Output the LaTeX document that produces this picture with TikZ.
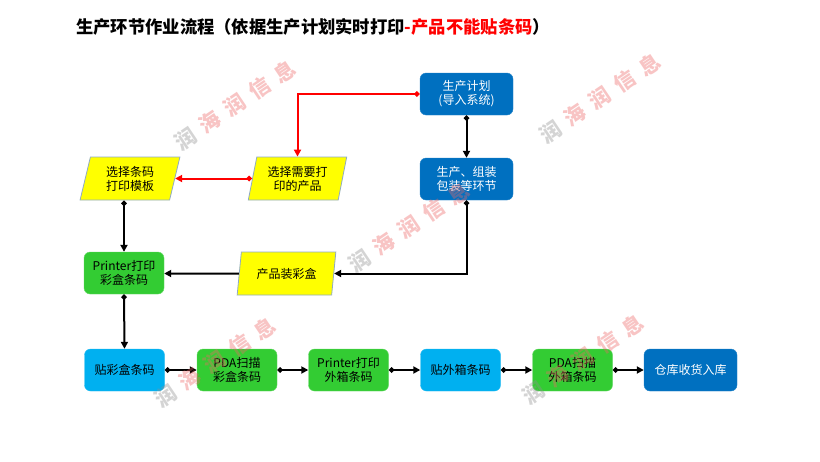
\documentclass[tikz,border=0pt]{standalone}
\usepackage{fontspec}
\setmainfont{Noto Sans CJK SC}
\usetikzlibrary{arrows.meta,shapes.geometric}
\definecolor{dblue}{HTML}{0070C0}
\definecolor{lblue}{HTML}{00B0F0}
\definecolor{bgreen}{HTML}{33CC33}
\definecolor{pyellow}{HTML}{FFFF00}
\definecolor{pborder}{HTML}{8FAAC4}
\definecolor{wmred}{HTML}{EE6666}
\definecolor{wmgray}{HTML}{909090}
\begin{document}
\begin{tikzpicture}[x=1pt,y=-1pt,
 box/.style={rectangle,rounded corners=6pt,minimum width=80pt,minimum height=42pt,inner sep=0pt,align=center,font=\fontsize{12}{14}\selectfont},
 darkbox/.style={box,fill=dblue,draw=dblue!85!white,text=white},
 lightbox/.style={box,fill=lblue,draw=lblue!85!white,text=black},
 greenbox/.style={box,fill=bgreen,draw=bgreen!75!white,text=black},
 para/.style={trapezium,trapezium left angle=76,trapezium right angle=104,trapezium stretches=true,minimum width=100pt,minimum height=43pt,inner sep=0pt,fill=pyellow,draw=pborder,line width=0.8pt,align=center,font=\fontsize{12}{14}\selectfont},
 conn/.style={line width=2pt,-{Triangle[length=7pt,width=7pt]}},
 dconn/.style={line width=2pt,{Diamond[length=6pt,width=6pt]}-{Triangle[length=7pt,width=7pt]}},
 wm/.style={rotate=34,font=\fontsize{21}{21}\selectfont\bfseries,opacity=0.38,inner sep=0pt},
]
\useasboundingbox (0,0) rectangle (820,461);
\fill[white] (0,0) rectangle (820,461);

\node[anchor=west,inner sep=0pt,font=\fontsize{17.3}{17.3}\selectfont\bfseries] (title) at (76,27)
  {生产环节作业流程（依据生产计划实时打印\textcolor{red}{-产品不能贴条码}）};

\node[darkbox,minimum width=93pt] (plan) at (466.5,94) {生产计划\\(导入系统)};
\node[darkbox,minimum width=93pt] (prod) at (466.5,179) {生产、组装\\包装等环节};
\node[para] (selt) at (130,178.5) {选择条码\\打印模板};
\node[para,minimum width=99pt] (selp) at (297.5,178.5) {选择需要打\\印的产品};
\node[para,minimum width=99pt] (pack) at (286.5,273.5) {产品装彩盒};
\node[greenbox] (pr1) at (124,273) {Printer打印\\彩盒条码};

\node[lightbox] (b1) at (124.5,370) {贴彩盒条码};
\node[greenbox] (b2) at (237,370) {PDA扫描\\彩盒条码};
\node[greenbox] (b3) at (348.5,370) {Printer打印\\外箱条码};
\node[lightbox] (b4) at (460.5,370) {贴外箱条码};
\node[greenbox] (b5) at (572.5,370) {PDA扫描\\外箱条码};
\node[darkbox,minimum width=93pt] (b6) at (690.5,370) {仓库收货入库};

\draw[dconn,red] (plan.west) -| (selp.north);
\draw[dconn,red] (selp) -- (selt);
\draw[dconn] (plan.south) -- (prod.north);
\draw[dconn] (pr1.north |- selt.south) -- (pr1.north);
\draw[dconn] (prod.south) |- (pack);
\draw[conn] (pack) -- (pack -| pr1.east);
\draw[dconn] (pr1.south) -- (b1.north);
\draw[dconn] (b1) -- (b2);
\draw[dconn] (b2) -- (b3);
\draw[dconn] (b3) -- (b4);
\draw[dconn] (b4) -- (b5);
\draw[dconn] (b5) -- (b6);

\foreach \p/\q in {235/105, 600/98, 409/227, 215/362, 583/359} {
  \node[wm] at (\p,\q) {\textcolor{wmgray}{润}\hspace{9pt}\textcolor{wmred}{海\hspace{9pt}润\hspace{9pt}信\hspace{9pt}息}};
}
\end{tikzpicture}
\end{document}
